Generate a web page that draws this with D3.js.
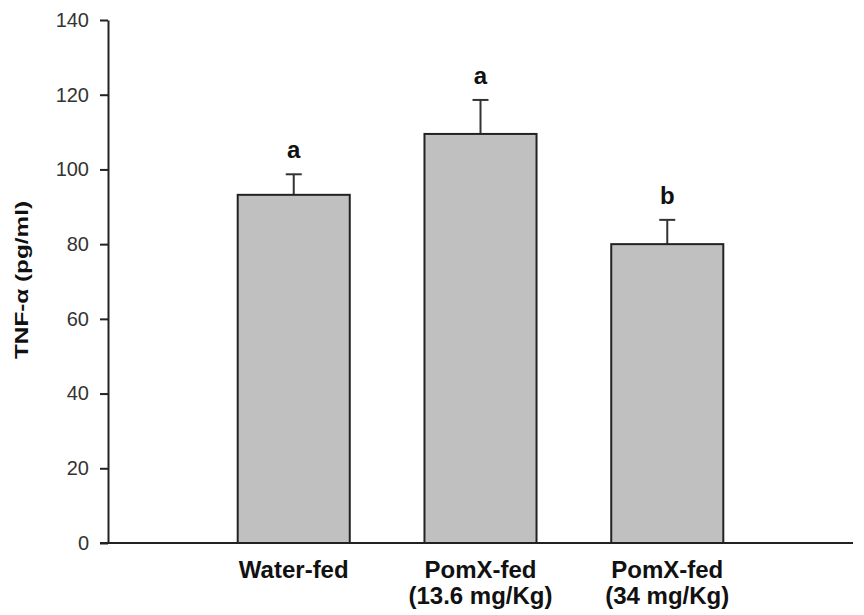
<!DOCTYPE html>
<html>
<head>
<meta charset="utf-8">
<script src="https://cdn.jsdelivr.net/npm/d3@7"></script>
<style>
  body { margin: 0; background: #fff; }
  text { font-family: "Liberation Sans", Arial, sans-serif; }
</style>
</head>
<body>
<svg id="chart" width="864" height="615"></svg>
<script>
const groups = ['Water-fed', 'PomX-fed (13.6 mg/Kg)', 'PomX-fed (34 mg/Kg)']
const labelLines = [['Water-fed'], ['PomX-fed', '(13.6 mg/Kg)'], ['PomX-fed', '(34 mg/Kg)']]
const means = [93.2, 109.5, 80.0]
const errors = [5.5, 9.1, 6.5]
const letters = ['a', 'a', 'b']
const yTicks = [0, 20, 40, 60, 80, 100, 120, 140]

const plotLeft = 108, plotRight = 853, plotTop = 20, plotBottom = 543

let svg = d3.select('#chart')

let y = d3.scaleLinear().domain([0, 140]).range([plotBottom, plotTop])
let x = d3.scaleBand().domain(groups)
  .range([163, 798])
  .paddingInner(0.4)
  .paddingOuter(0.4)

// y axis
let yAxis = svg.append('g')
  .attr('transform', `translate(${plotLeft},0)`)
  .call(d3.axisLeft(y).tickValues(yTicks).tickSize(8).tickSizeOuter(0).tickPadding(11))
yAxis.select('.domain').attr('stroke', '#222').attr('stroke-width', 2)
yAxis.selectAll('.tick line').attr('stroke', '#222').attr('stroke-width', 2)
yAxis.selectAll('.tick text')
  .attr('fill', '#333')
  .style('font-size', '20px')

// x axis line
svg.append('line')
  .attr('x1', plotLeft - 8).attr('x2', plotRight)
  .attr('y1', y(0)).attr('y2', y(0))
  .attr('stroke', '#222').attr('stroke-width', 2)

// error bars (drawn first so bar outline sits over the stem)
let bw = x.bandwidth()
let eb = svg.append('g').selectAll('g').data(groups).join('g')
eb.append('line')
  .attr('x1', (d) => x(d) + bw / 2).attr('x2', (d) => x(d) + bw / 2)
  .attr('y1', (d, i) => y(means[i])).attr('y2', (d, i) => y(means[i] + errors[i]))
  .attr('stroke', '#333').attr('stroke-width', 2)
eb.append('line')
  .attr('x1', (d) => x(d) + bw / 2 - 8).attr('x2', (d) => x(d) + bw / 2 + 8)
  .attr('y1', (d, i) => y(means[i] + errors[i])).attr('y2', (d, i) => y(means[i] + errors[i]))
  .attr('stroke', '#333').attr('stroke-width', 2)

// bars
svg.append('g').selectAll('rect').data(groups).join('rect')
  .attr('x', (d) => x(d))
  .attr('y', (d, i) => y(means[i]))
  .attr('width', bw)
  .attr('height', (d, i) => y(0) - y(means[i]))
  .attr('fill', '#c0c0c0')
  .attr('stroke', '#222')
  .attr('stroke-width', 2)

// significance letters
svg.append('g').selectAll('text').data(groups).join('text')
  .attr('x', (d) => x(d) + bw / 2)
  .attr('y', (d, i) => y(means[i] + errors[i]) - 16)
  .attr('text-anchor', 'middle')
  .style('font-size', '24px')
  .style('font-weight', 'bold')
  .attr('fill', '#111')
  .text((d, i) => letters[i])

// category labels
let cl = svg.append('g').selectAll('text').data(groups).join('text')
  .attr('text-anchor', 'middle')
  .style('font-size', '24px')
  .style('font-weight', 'bold')
  .attr('fill', '#111')
cl.each(function (d, i) {
  d3.select(this).selectAll('tspan').data(labelLines[i]).join('tspan')
    .attr('x', x(d) + bw / 2)
    .attr('y', (l, j) => 578 + j * 26)
    .text((l) => l)
})

// y label (stretched along its length like the original)
svg.append('text')
  .attr('transform', `translate(28,280) rotate(-90)`)
  .attr('text-anchor', 'middle')
  .attr('textLength', 158)
  .attr('lengthAdjust', 'spacingAndGlyphs')
  .style('font-size', '19px')
  .style('font-weight', 'bold')
  .attr('fill', '#111')
  .text('TNF-\u03b1 (pg/ml)')
</script>
</body>
</html>
